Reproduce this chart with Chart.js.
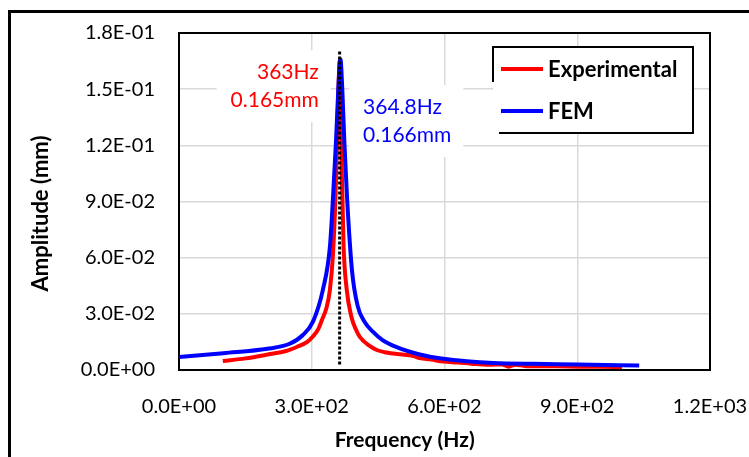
<!DOCTYPE html>
<html><head><meta charset="utf-8">
<script src="https://cdn.jsdelivr.net/npm/chart.js@4"></script>
<style>html,body{margin:0;padding:0;background:#fff}canvas{display:block}</style>
</head><body>
<canvas id="c" width="749" height="457"></canvas>
<script>
// ---- data ----
const seriesNames = ['Experimental', 'FEM'];
const expFreq = [99, 150, 206, 240, 266, 290, 303, 315, 323, 333, 341, 348, 354, 358, 361, 363, 365, 368, 372, 379, 390, 400, 409, 430, 447, 465, 484, 500, 515, 530, 544, 570, 597, 630, 660, 700, 730, 745, 760, 780, 815, 850, 900, 950, 1001];
const expAmp  = [0.0048, 0.0062, 0.0085, 0.0100, 0.0123, 0.0150, 0.0180, 0.0220, 0.0267, 0.0330, 0.0427, 0.0620, 0.0950, 0.1300, 0.1550, 0.1650, 0.1500, 0.1050, 0.0660, 0.0430, 0.0280, 0.0215, 0.0176, 0.0130, 0.0107, 0.0095, 0.0088, 0.0084, 0.0080, 0.0074, 0.0064, 0.0056, 0.0045, 0.0040, 0.0034, 0.0028, 0.0030, 0.0018, 0.0028, 0.0022, 0.0020, 0.0020, 0.0018, 0.0017, 0.0015];
const femFreq = [0, 100, 200, 250, 280, 303, 325, 341, 348, 355, 360, 364.8, 369, 374, 380, 391, 404, 420, 438, 460, 492, 544, 597, 650, 710, 800, 900, 1040];
const femAmp  = [0.0069, 0.0090, 0.0113, 0.0140, 0.0187, 0.0260, 0.0427, 0.0657, 0.0920, 0.1230, 0.1500, 0.1660, 0.1500, 0.1200, 0.0910, 0.0530, 0.0340, 0.0255, 0.0205, 0.0160, 0.0122, 0.0083, 0.0060, 0.0047, 0.0038, 0.0033, 0.0030, 0.0024];
const peakLineFreq = [363, 363];
const peakLineAmp  = [0.003, 0.171];
const xTicks = [0, 300, 600, 900, 1200];
const yTicks = [0, 0.03, 0.06, 0.09, 0.12, 0.15, 0.18];
const xTitle = 'Frequency (Hz)';
const yTitle = 'Amplitude (mm)';
const expLabel = ['363Hz', '0.165mm'];
const femLabel = ['364.8Hz', '0.166mm'];
const expLabelPos = [316, 0.159];   // data coords (right aligned)
const femLabelPos = [416, 0.1405];  // data coords (left aligned)

const FONT = 'Lato';
function fmt(v) {
  const [m, e] = Number(v).toExponential(1).split('e');
  const sign = e[0] === '-' ? '-' : '+';
  const d = e.replace(/[+-]/, '').padStart(2, '0');
  return m + 'E' + sign + d;
}
const pts = (xs, ys) => xs.map((x, i) => ({x, y: ys[i]}));

const decor = {
  id: 'decor',
  beforeDraw(chart) {
    const c = chart.ctx;
    c.save();
    c.fillStyle = '#fff';
    c.fillRect(0, 0, chart.width, chart.height);
    c.fillStyle = '#000';
    c.fillRect(8, 10, 3, chart.height - 10);
    c.fillRect(8, 10, chart.width - 8, 3);
    c.restore();
  },
  beforeDatasetsDraw(chart) {
    const c = chart.ctx, a = chart.chartArea, xs = chart.scales.x, ys = chart.scales.y;
    c.save();
    c.font = '21px ' + FONT;
    c.textBaseline = 'middle';
    const lh = 28;
    function block(lines, pos, align, color) {
      const px = xs.getPixelForValue(pos[0]), py = ys.getPixelForValue(pos[1]);
      const w = Math.max(...lines.map(t => c.measureText(t).width));
      const left = align === 'right' ? px - w : px;
      c.fillStyle = '#fff';
      c.fillRect(left - 14, py - 22, w + 26, lh * lines.length + 16);
      c.fillStyle = color;
      c.textAlign = align;
      lines.forEach((t, i) => c.fillText(t, px, py + i * lh));
    }
    block(expLabel, expLabelPos, 'right', '#ff0000');
    block(femLabel, femLabelPos, 'left', '#0000ff');
    c.strokeStyle = '#000';
    c.lineWidth = 2;
    c.strokeRect(a.left, a.top, a.right - a.left, a.bottom - a.top);
    c.restore();
  },
  afterDraw(chart) {
    const c = chart.ctx, a = chart.chartArea;
    c.save();
    // axis titles
    c.fillStyle = '#000';
    c.textAlign = 'center'; c.textBaseline = 'middle';
    c.font = 'bold 21px ' + FONT;
    c.fillText(xTitle, a.left + (a.right - a.left) * 0.425, 440);
    c.save();
    c.translate(41, (a.top + a.bottom) / 2 + 12);
    c.rotate(-Math.PI / 2);
    c.font = 'bold 22px ' + FONT;
    c.fillText(yTitle, 0, 0);
    c.restore();
    // legend
    const L = a.right - 217, T = a.top + 14, R = a.right - 17, B = a.top + 100;
    c.fillStyle = '#fff';
    c.fillRect(L, T, R - L, B - T);
    c.strokeStyle = '#000';
    c.lineWidth = 2;
    c.beginPath();
    c.moveTo(L, T + 35); c.lineTo(L, T); c.lineTo(R, T); c.lineTo(R, B); c.lineTo(L + 6, B);
    c.stroke();
    const ds = chart.data.datasets;
    [0, 1].forEach(i => {
      const y = T + 22 + i * 42;
      c.strokeStyle = ds[i].borderColor;
      c.lineWidth = 4;
      c.beginPath(); c.moveTo(L + 8, y); c.lineTo(L + 50, y); c.stroke();
      c.fillStyle = '#000';
      c.font = 'bold 22px ' + FONT;
      c.textAlign = 'left'; c.textBaseline = 'middle';
      c.fillText(ds[i].label, L + 55, y + 1);
    });
    c.restore();
  }
};

new Chart(document.getElementById('c'), {
  type: 'line',
  data: {
    datasets: [
      {label: seriesNames[0], data: pts(expFreq, expAmp), borderColor: '#ff0000', borderWidth: 4, pointRadius: 0, cubicInterpolationMode: 'monotone', order: 2},
      {label: seriesNames[1], data: pts(femFreq, femAmp), borderColor: '#0000ff', borderWidth: 4, pointRadius: 0, cubicInterpolationMode: 'monotone', order: 1},
      {label: 'peak', data: pts(peakLineFreq, peakLineAmp), borderColor: '#000', borderWidth: 3, borderDash: [3, 2], pointRadius: 0, order: 0}
    ]
  },
  options: {
    responsive: false,
    animation: false,
    layout: {padding: {top: 33, right: 39, left: 0, bottom: 0}},
    plugins: {legend: {display: false}, tooltip: {enabled: false}},
    scales: {
      x: {
        type: 'linear', min: 0, max: 1200,
        afterBuildTicks(s) { s.ticks = xTicks.map(v => ({value: v})); },
        ticks: {callback: fmt, color: '#000', font: {family: FONT, size: 20}, padding: 25, maxRotation: 0, autoSkip: false},
        grid: {color: '#d9d9d9', lineWidth: 1.5, drawTicks: false},
        border: {display: false},
        afterFit(s) { s.height = 87; s.paddingLeft = 0; s.paddingRight = 0; }
      },
      y: {
        type: 'linear', min: 0, max: 0.18,
        afterBuildTicks(s) { s.ticks = yTicks.map(v => ({value: v})); },
        ticks: {callback: fmt, color: '#000', font: {family: FONT, size: 20}, padding: 24},
        grid: {color: '#d9d9d9', lineWidth: 1.5, drawTicks: false},
        border: {display: false},
        afterFit(s) { s.width = 179; s.paddingTop = 0; s.paddingBottom = 0; }
      }
    }
  },
  plugins: [decor]
});
</script>
</body></html>
